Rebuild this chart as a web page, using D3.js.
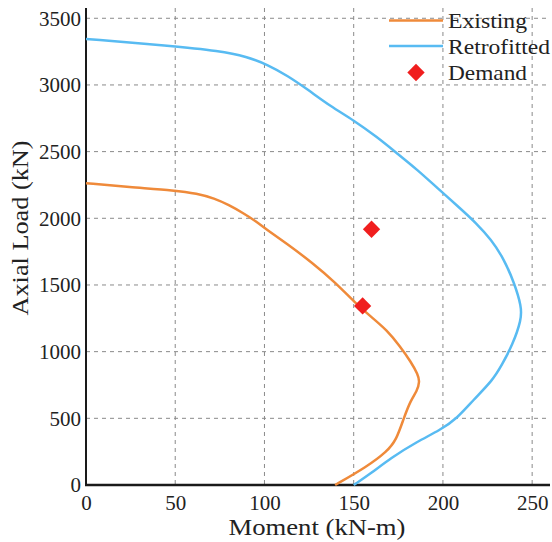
<!DOCTYPE html>
<html>
<head>
<meta charset="utf-8">
<script src="https://cdn.jsdelivr.net/npm/d3@7"></script>
<style>
  body { margin: 0; background: #fff; }
  svg { display: block; font-family: "Liberation Serif", "Times New Roman", serif; }
  svg text { font-family: "Liberation Serif", "Times New Roman", serif; }
</style>
</head>
<body>
<svg id="chart" width="552" height="542"></svg>
<script>
// interaction diagram data: [moment kN-m, axial load kN]
var existing = [
  [0, 2263], [24, 2234], [50.5, 2209], [62, 2186], [72, 2150], [80, 2100],
  [88, 2040], [95, 1980], [101, 1918], [112, 1815], [127, 1665], [140, 1515],
  [150.5, 1370], [160, 1258], [168.6, 1162], [176, 1040], [182, 925],
  [186, 830], [187, 775], [185.5, 705], [182, 637], [178, 500], [174, 340],
  [168.6, 250], [157.4, 137], [139.6, 0]
];
var retrofitted = [
  [0, 3345], [47, 3294], [75, 3255], [90, 3213], [102, 3150], [113, 3068],
  [124, 2968], [137, 2840], [150, 2735], [163, 2610], [174, 2490], [186, 2360],
  [197, 2225], [208, 2095], [219, 1960], [227, 1840], [234, 1700], [240, 1515],
  [244, 1340], [244, 1240], [239, 1050], [233, 900], [228, 787], [217, 637],
  [208, 500], [198.5, 412], [185.5, 325], [170.5, 200], [160, 90], [150, 0]
];
var demand = [[155, 1343], [160, 1918]];
var xTicks = [0, 50, 100, 150, 200, 250];
var yTicks = [0, 500, 1000, 1500, 2000, 2500, 3000, 3500];
var seriesNames = ["Existing", "Retrofitted", "Demand"];
var legendWidths = [79, 102, 79];
var colors = { existing: "#ef8a3a", retrofitted: "#58bbf2", demand: "#f01e1e" };

(function() {
  var svg = d3.select("#chart");
  var mLeft = 86, mRight = 550, mTop = 8, mBottom = 485;
  var fontFamily = "Liberation Serif, Times New Roman, serif";

  var x = d3.scaleLinear().domain([0, 260]).range([mLeft, mRight]);
  var y = d3.scaleLinear().domain([0, 3577]).range([mBottom, mTop]);

  // grid
  var grid = svg.append("g").attr("stroke", "#8a8a8a").attr("stroke-width", 1)
    .attr("stroke-dasharray", "4,4");
  grid.selectAll("line.v").data(xTicks.filter(function(d) { return d > 0; }))
    .enter().append("line").attr("class", "v")
    .attr("x1", function(d) { return x(d); }).attr("x2", function(d) { return x(d); })
    .attr("y1", mTop).attr("y2", mBottom);
  grid.selectAll("line.h").data(yTicks.filter(function(d) { return d > 0; }))
    .enter().append("line").attr("class", "h")
    .attr("y1", function(d) { return y(d); }).attr("y2", function(d) { return y(d); })
    .attr("x1", mLeft).attr("x2", mRight);

  // axes
  var xAxis = svg.append("g").attr("transform", "translate(0," + mBottom + ")")
    .call(d3.axisBottom(x).tickValues(xTicks).tickFormat(d3.format("d")).tickSize(0).tickPadding(10));
  var yAxis = svg.append("g").attr("transform", "translate(" + mLeft + ",0)")
    .call(d3.axisLeft(y).tickValues(yTicks).tickFormat(d3.format("d")).tickSize(0).tickPadding(5));
  [xAxis, yAxis].forEach(function(a) {
    a.attr("font-family", fontFamily).attr("font-size", 21);
    a.select(".domain").remove();
    a.selectAll("text").style("font-family", fontFamily).style("font-size", "21px")
      .attr("fill", "#222");
  });

  svg.append("line").attr("x1", mLeft).attr("x2", mLeft).attr("y1", mTop).attr("y2", mBottom + 1)
    .attr("stroke", "#1a1a1a").attr("stroke-width", 2);
  svg.append("line").attr("x1", mLeft - 1).attr("x2", mRight).attr("y1", mBottom).attr("y2", mBottom)
    .attr("stroke", "#1a1a1a").attr("stroke-width", 2.5);

  // curves
  var line = d3.line()
    .x(function(d) { return x(d[0]); })
    .y(function(d) { return y(d[1]); })
    .curve(d3.curveBasis);

  svg.append("path").datum(retrofitted).attr("d", line)
    .attr("fill", "none").attr("stroke", colors.retrofitted).attr("stroke-width", 2.5);
  svg.append("path").datum(existing).attr("d", line)
    .attr("fill", "none").attr("stroke", colors.existing).attr("stroke-width", 2.5);

  // demand points
  var diamond = d3.symbol().type(d3.symbolSquare).size(150);
  svg.selectAll("path.demand").data(demand).enter().append("path")
    .attr("class", "demand")
    .attr("d", diamond)
    .attr("transform", function(d) { return "translate(" + x(d[0]) + "," + y(d[1]) + ") rotate(45)"; })
    .attr("fill", colors.demand);

  // axis titles
  svg.append("text").attr("x", 317).attr("y", 535).attr("text-anchor", "middle")
    .attr("font-size", 24).attr("fill", "#222")
    .attr("textLength", 177).attr("lengthAdjust", "spacingAndGlyphs")
    .text("Moment (kN-m)");
  svg.append("text").attr("transform", "translate(28,228) rotate(-90)")
    .attr("text-anchor", "middle").attr("font-size", 24).attr("fill", "#222")
    .attr("textLength", 175).attr("lengthAdjust", "spacingAndGlyphs")
    .text("Axial Load (kN)");

  // legend
  var legend = svg.append("g");
  legend.append("line").attr("x1", 389).attr("x2", 443).attr("y1", 20.5).attr("y2", 20.5)
    .attr("stroke", colors.existing).attr("stroke-width", 2.5);
  legend.append("line").attr("x1", 389).attr("x2", 443).attr("y1", 46).attr("y2", 46)
    .attr("stroke", colors.retrofitted).attr("stroke-width", 2.5);
  legend.append("path").attr("d", diamond)
    .attr("transform", "translate(416,72.5) rotate(45)").attr("fill", colors.demand);
  legend.selectAll("text").data(seriesNames).enter().append("text")
    .attr("x", 448).attr("y", function(d, i) { return 27.5 + i * 26.3; })
    .attr("font-size", 22).attr("fill", "#222")
    .attr("textLength", function(d, i) { return legendWidths[i]; })
    .attr("lengthAdjust", "spacingAndGlyphs")
    .text(function(d) { return d; });
})();
</script>
</body>
</html>
